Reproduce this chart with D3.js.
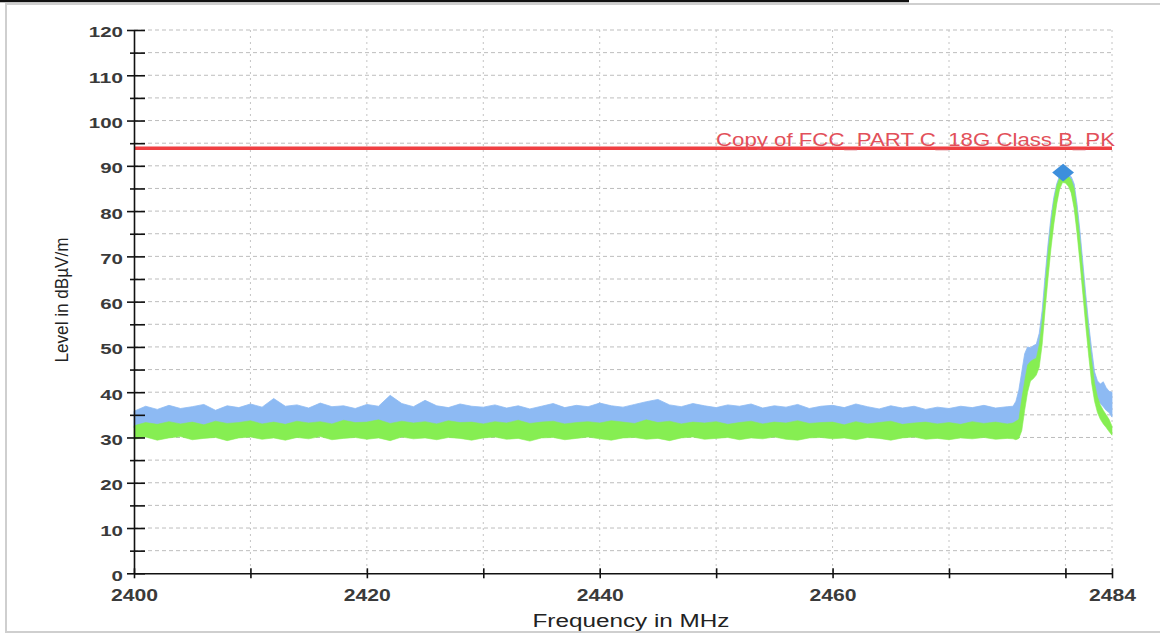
<!DOCTYPE html>
<html>
<head>
<meta charset="utf-8">
<script src="https://cdn.jsdelivr.net/npm/d3@7"></script>
<style>
  html, body { margin: 0; padding: 0; background: #fff; }
  #wrapper { width: 1160px; height: 635px; }
  text { font-family: "Liberation Sans", Arial, sans-serif; }
</style>
</head>
<body>
<div id="wrapper"></div>
<script>
const flatFreqs = d3.range(2400, 2476)
const blueHiFlat = [
  35.8, 36.9, 36.2, 37.1, 36.4, 36.8, 37.3, 36.0, 37.0, 36.6,
  37.4, 36.7, 38.6, 36.9, 37.2, 36.5, 37.6, 36.8, 37.0, 36.4,
  37.3, 36.9, 39.3, 37.5, 36.8, 38.2, 37.0, 36.6, 37.4, 36.9,
  36.7, 37.2, 36.5, 37.0, 36.3, 36.9, 37.5, 36.6, 37.1, 36.8,
  37.6, 37.0, 36.7, 37.3, 37.9, 38.4, 37.2, 36.8, 37.5, 37.0,
  36.6, 37.2, 36.9, 37.4, 36.5, 37.0, 36.7, 37.3, 36.4, 36.9,
  37.1, 36.6, 37.4, 36.8, 36.3, 37.0, 36.5, 36.9, 36.2, 36.7,
  36.4, 36.9, 36.6, 37.1, 36.5, 36.8,
]
const blueLoFlat = [
  32.1, 31.7, 32.4, 31.9, 32.2, 31.6, 32.5, 32.0, 31.8, 32.3,
  31.9, 32.4, 32.0, 31.7, 32.6, 32.1, 31.8, 32.3, 32.0, 31.9,
  32.2, 31.8, 32.5, 32.0, 31.7, 32.3, 32.1, 31.9, 32.4, 32.0,
  31.8, 32.2, 31.9, 32.5, 32.0, 31.7, 32.3, 32.1, 31.8, 32.2,
  32.0, 32.4, 31.9, 32.2, 32.6, 31.8, 32.1, 32.3, 31.9, 32.0,
  32.2, 31.8, 32.3, 32.0, 31.7, 32.4, 31.9, 32.1, 32.2, 31.8,
  32.0, 32.3, 31.7, 32.1, 31.9, 32.4, 32.0, 31.8, 32.2, 31.9,
  32.1, 31.8, 32.3, 31.9, 32.0, 31.7,
]
const greenHiFlat = [
  32.6, 33.3, 32.9, 33.5, 33.0, 33.4, 32.8, 33.6, 33.1, 33.3,
  33.7, 33.0, 33.4, 32.9, 33.6, 33.2, 33.5, 33.0, 33.8, 33.3,
  33.4, 33.9, 33.1, 33.6, 33.2, 33.5, 33.0, 33.7, 33.3, 33.4,
  33.0, 33.5, 33.2, 33.8, 33.1, 33.4, 33.6, 33.0, 33.3, 33.5,
  33.2, 33.7, 33.4, 33.1, 33.9, 33.3, 33.6, 33.0, 33.4, 33.2,
  33.5, 32.9, 33.3, 33.6, 33.0, 33.4, 33.2, 33.7, 33.1, 33.3,
  33.4, 32.8, 33.5, 33.0, 33.3, 33.6, 32.9, 33.2, 33.4, 33.0,
  33.3, 32.9, 33.5, 33.1, 33.4, 33.0,
]
const greenLoFlat = [
  29.6, 30.1, 29.4, 29.9, 30.2, 29.5, 29.8, 30.0, 29.3, 29.9,
  30.1, 29.6, 29.9, 29.4, 30.0, 29.7, 30.2, 29.5, 29.8, 30.0,
  29.6, 29.9, 29.3, 30.1, 29.7, 29.9, 29.5, 30.0, 29.8, 29.4,
  29.9, 30.1, 29.6, 29.8, 29.2, 29.9, 30.0, 29.5, 29.8, 30.1,
  29.7, 29.4, 29.9, 30.0, 29.6, 29.8, 29.3, 29.9, 30.1, 29.6,
  29.8, 30.0, 29.5, 29.9, 29.7, 30.1, 29.6, 29.4, 29.9, 30.0,
  29.7, 29.9, 29.5, 30.0, 29.8, 29.4, 29.9, 30.1, 29.6, 29.8,
  29.5, 29.9, 29.7, 30.0, 29.6, 29.8,
]

// carrier around 2480 MHz, finer samples
const peakFreqs = [
  2475.5, 2475.75, 2476, 2476.25, 2476.5, 2476.75, 2477, 2477.25, 2477.5, 2477.75,
  2478, 2478.25, 2478.5, 2478.75, 2479, 2479.25, 2479.5, 2479.75, 2480, 2480.25,
  2480.5, 2480.75, 2481, 2481.25, 2481.5, 2481.75, 2482, 2482.25, 2482.5, 2482.75,
  2483, 2483.25, 2483.5, 2483.75, 2484,
]
const blueLoPeak = [
  31.8, 32.2, 33.5, 36.5, 41.0, 44.5, 45.5, 46.0, 46.5, 48.5,
  53.0, 60.5, 67.5, 73.5, 78.5, 82.5, 85.5, 86.8, 86.7, 86.0,
  84.5, 81.5, 76.5, 70.5, 63.5, 56.5, 50.0, 45.0, 40.5, 38.5,
  37.5, 36.8, 36.0, 35.5, 34.5,
]
const blueHiPeak = [
  36.9, 38.0, 40.5, 44.5, 48.5, 50.0, 49.8, 50.3, 50.6, 53.0,
  58.0, 65.5, 72.5, 78.5, 83.0, 86.0, 87.8, 88.5, 88.4, 88.1,
  87.6, 86.0, 81.5, 75.5, 68.5, 61.5, 55.0, 49.5, 44.5, 42.5,
  41.8, 42.3, 41.0, 40.2, 40.0,
]
const greenLoPeak = [
  29.7, 29.5, 29.8, 31.5, 36.0, 40.0, 42.5, 43.0, 43.8, 45.5,
  50.5, 58.0, 65.0, 71.5, 77.0, 81.5, 84.8, 86.3, 86.2, 85.5,
  84.0, 80.5, 75.0, 68.5, 61.5, 54.5, 48.0, 42.0, 38.0, 35.5,
  34.0, 33.0, 32.2, 31.3, 30.5,
]
const greenHiPeak = [
  33.2, 33.6, 34.0, 38.5, 42.5, 46.0, 46.8, 47.2, 47.5, 50.5,
  55.5, 63.0, 70.5, 76.8, 82.0, 85.5, 87.3, 88.2, 88.0, 87.7,
  87.0, 85.0, 80.0, 73.5, 66.5, 59.5, 53.0, 47.0, 42.0, 39.0,
  37.2, 36.0, 35.0, 34.0, 32.5,
]

const yTickValues = d3.range(0, 121, 5)
const xTickValues = [2400, 2410, 2420, 2430, 2440, 2450, 2460, 2470, 2480, 2484]
const xTickLabels = [2400, 2420, 2440, 2460, 2484]
const limitLevel = 93.9
const limitLabel = "Copy of FCC_PART C_18G Class B_PK"
const peakMarker = [{ freq: 2479.8, level: 88.5 }]

function drawChart() {
  const dataset = [
    ...flatFreqs.map((f, i) => ({ freq: f, blueLo: blueLoFlat[i], blueHi: blueHiFlat[i], greenLo: greenLoFlat[i], greenHi: greenHiFlat[i] })),
    ...peakFreqs.map((f, i) => ({ freq: f, blueLo: blueLoPeak[i], blueHi: blueHiPeak[i], greenLo: greenLoPeak[i], greenHi: greenHiPeak[i] })),
  ]
  const xAccessor = d => d.freq

  let dimensions = {
    width: 1160,
    height: 635,
    margin: { top: 30, right: 48, bottom: 61.7, left: 134 },
  }
  dimensions.boundedWidth = dimensions.width - dimensions.margin.left - dimensions.margin.right
  dimensions.boundedHeight = dimensions.height - dimensions.margin.top - dimensions.margin.bottom

  const wrapper = d3.select("#wrapper")
    .append("svg")
      .attr("width", dimensions.width)
      .attr("height", dimensions.height)

  // outer frame of the screenshot
  wrapper.append("line")
      .attr("x1", 0).attr("x2", 909).attr("y1", 1).attr("y2", 1)
      .attr("stroke", "#111").attr("stroke-width", 2.5)
  wrapper.append("path")
      .attr("d", "M1160,4 H6 V632 H1160")
      .attr("fill", "none").attr("stroke", "#cfcfcf").attr("stroke-width", 2)

  const bounds = wrapper.append("g")
      .attr("transform", `translate(${dimensions.margin.left}, ${dimensions.margin.top})`)

  const xScale = d3.scaleLinear()
    .domain([2400, 2484])
    .range([0, dimensions.boundedWidth])
  const yScale = d3.scaleLinear()
    .domain([0, 120])
    .range([dimensions.boundedHeight, 0])

  // grid
  bounds.append("g").selectAll("line")
    .data(yTickValues.filter(d => d > 0))
    .join("line")
      .attr("x1", 0).attr("x2", dimensions.boundedWidth)
      .attr("y1", d => yScale(d)).attr("y2", d => yScale(d))
      .attr("stroke", "#bdbdbd").attr("stroke-width", 1).attr("stroke-dasharray", "4,3")
  bounds.append("g").selectAll("line")
    .data(xTickValues.filter(d => d > 2400))
    .join("line")
      .attr("x1", d => xScale(d)).attr("x2", d => xScale(d))
      .attr("y1", 0).attr("y2", dimensions.boundedHeight)
      .attr("stroke", "#c4c4c4").attr("stroke-width", 1).attr("stroke-dasharray", "2,4")

  // traces: max hold (blue) under average (green)
  const blueArea = d3.area()
    .x(d => xScale(xAccessor(d)))
    .y0(d => yScale(d.blueLo))
    .y1(d => yScale(d.blueHi))
  const greenArea = d3.area()
    .x(d => xScale(xAccessor(d)))
    .y0(d => yScale(d.greenLo))
    .y1(d => yScale(d.greenHi))

  bounds.append("path")
      .datum(dataset)
      .attr("d", blueArea)
      .attr("fill", "#8dbaf3")
      .attr("stroke", "#8dbaf3").attr("stroke-width", 0.8)
  bounds.append("path")
      .datum(dataset)
      .attr("d", greenArea)
      .attr("fill", "#86ee52")
      .attr("stroke", "#86ee52").attr("stroke-width", 0.6)

  // limit line
  bounds.append("line")
      .attr("x1", xScale(2400)).attr("x2", xScale(2484))
      .attr("y1", yScale(limitLevel)).attr("y2", yScale(limitLevel))
      .attr("stroke", "#ef3f42").attr("stroke-width", 3.5)
  bounds.append("text")
      .attr("x", xScale(2484) + 3)
      .attr("y", yScale(limitLevel) - 2.5)
      .attr("text-anchor", "end")
      .attr("font-size", 17.5)
      .attr("fill", "#e2505a")
      .attr("textLength", 399)
      .attr("lengthAdjust", "spacingAndGlyphs")
      .text(limitLabel)

  // axes
  const yAxisGenerator = d3.axisLeft(yScale)
    .tickValues(yTickValues)
    .tickSize(0)
    .tickPadding(11)
    .tickFormat(d => d % 10 === 0 ? d : "")
  const yAxis = bounds.append("g").call(yAxisGenerator)
  yAxis.select(".domain").attr("stroke", "#111").attr("stroke-width", 1.6)
  yAxis.selectAll(".tick line")
      .attr("x1", d => d % 10 === 0 ? -7 : -4)
      .attr("x2", 11)
      .attr("stroke", "#111").attr("stroke-width", 1.6)
  yAxis.selectAll(".tick text")
      .attr("font-size", 15.5)
      .attr("font-weight", "bold")
      .attr("font-family", "Liberation Sans, Arial, sans-serif")
      .attr("fill", "#3a3a3a")
      .attr("dy", "0.45em")
      .attr("textLength", d => d % 10 === 0 ? String(d).length * 11.4 : null)
      .attr("lengthAdjust", "spacingAndGlyphs")

  const xAxisGenerator = d3.axisBottom(xScale)
    .tickValues(xTickValues)
    .tickSize(0)
    .tickPadding(16)
    .tickFormat(d => xTickLabels.includes(d) ? d : "")
  const xAxis = bounds.append("g")
      .attr("transform", `translate(0, ${dimensions.boundedHeight})`)
      .call(xAxisGenerator)
  xAxis.select(".domain").attr("stroke", "#111").attr("stroke-width", 1.6)
  xAxis.selectAll(".tick line")
      .attr("y1", -5).attr("y2", 5)
      .attr("stroke", "#111").attr("stroke-width", 1.6)
  xAxis.selectAll(".tick text")
      .attr("font-size", 16)
      .attr("font-weight", "bold")
      .attr("font-family", "Liberation Sans, Arial, sans-serif")
      .attr("fill", "#3a3a3a")
      .attr("textLength", d => xTickLabels.includes(d) ? 47 : null)
      .attr("lengthAdjust", "spacingAndGlyphs")

  wrapper.append("text")
      .attr("x", 631)
      .attr("y", 627)
      .attr("text-anchor", "middle")
      .attr("font-size", 18)
      .attr("fill", "#222")
      .attr("textLength", 197)
      .attr("lengthAdjust", "spacingAndGlyphs")
      .text("Frequency in MHz")

  wrapper.append("text")
      .attr("transform", "translate(68, 300) scale(1.25, 1) rotate(-90)")
      .attr("text-anchor", "middle")
      .attr("font-size", 14)
      .attr("fill", "#222")
      .attr("textLength", 125)
      .attr("lengthAdjust", "spacingAndGlyphs")
      .text("Level in dBµV/m")

  // peak marker
  bounds.selectAll(".marker")
    .data(peakMarker)
    .join("path")
      .attr("class", "marker")
      .attr("d", d3.symbol(d3.symbolSquare, 160))
      .attr("transform", d => `translate(${xScale(d.freq)}, ${yScale(d.level)}) scale(1.22, 1) rotate(45)`)
      .attr("fill", "#3d8fdc")
}
drawChart()
</script>
</body>
</html>
